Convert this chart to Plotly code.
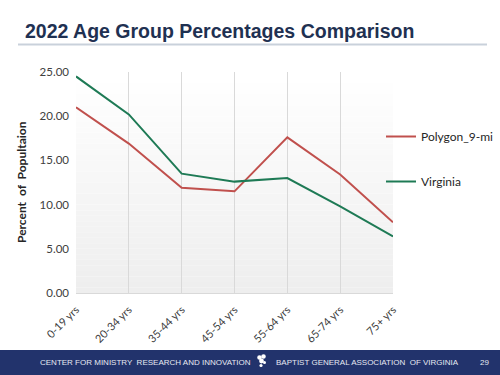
import plotly.graph_objects as go

categories = ["0-19 yrs", "20-34 yrs", "35-44 yrs", "45-54 yrs", "55-64 yrs", "65-74 yrs", "75+ yrs"]
polygon = [21.0, 16.9, 11.9, 11.5, 17.6, 13.4, 8.0]
virginia = [24.5, 20.2, 13.5, 12.6, 13.0, 9.8, 6.4]
y_ticks = [0, 5, 10, 15, 20, 25]
y_labels = ["0.00", "5.00", "10.00", "15.00", "20.00", "25.00"]

W, H = 500, 375
L, R, T, B = 76, 393, 72, 293

def px(x):
    return (x - L) / (R - L)

def py(y):
    return (B - y) / (B - T)

fig = go.Figure()
fig.add_trace(go.Scatter(x=categories, y=polygon, mode="lines", name="Polygon_9-mi",
                         line=dict(color="#C0504D", width=2), legendgroup="a"))
fig.add_trace(go.Scatter(x=categories, y=virginia, mode="lines", name="Virginia",
                         line=dict(color="#1E7A55", width=2), legendgroup="b"))

shapes = []
# gradient plot background
n = 40
for i in range(n):
    t = i / (n - 1)
    g = int(round(255 - (255 - 238) * t))
    shapes.append(dict(type="rect", xref="x domain", yref="y domain",
                       x0=0, x1=1, y0=1 - (i + 1) / n, y1=1 - i / n,
                       fillcolor=f"rgb({g},{g},{g})", line=dict(width=0), layer="below"))
# title underline
shapes.append(dict(type="line", xref="paper", yref="paper", x0=px(18), x1=px(487),
                   y0=py(44.5), y1=py(44.5), line=dict(color="#C9D1DB", width=2)))
# footer band
shapes.append(dict(type="rect", xref="paper", yref="paper", x0=px(-2), x1=px(502),
                   y0=py(350), y1=py(377), fillcolor="#22336C", line=dict(width=0), layer="above"))
# small logo
for cx, cy, r in [(259.5, 357.5, 2.3), (263.5, 356.5, 2.3), (261.5, 361, 2.4), (264.5, 362.5, 1.5), (261, 365.5, 1.6)]:
    shapes.append(dict(type="circle", xref="paper", yref="paper",
                       x0=px(cx - r), x1=px(cx + r), y0=py(cy + r), y1=py(cy - r),
                       fillcolor="#FFFFFF", line=dict(width=0), layer="above"))

foot_font = dict(family="Liberation Sans, Arial", size=8.0, color="#E6E9F2")
annotations = [
    dict(text="<b>2022 Age Group Percentages Comparison</b>", xref="paper", yref="paper",
         x=px(23), y=py(31), xanchor="left", yanchor="middle", showarrow=False,
         font=dict(family="Liberation Sans, Arial", size=19.5, color="#1F3152")),
    dict(text="CENTER FOR MINISTRY  RESEARCH AND INNOVATION", xref="paper", yref="paper",
         x=px(38), y=py(362.5), xanchor="left", yanchor="middle", showarrow=False, font=foot_font),
    dict(text="BAPTIST GENERAL ASSOCIATION  OF VIRGINIA", xref="paper", yref="paper",
         x=px(274), y=py(362.5), xanchor="left", yanchor="middle", showarrow=False, font=foot_font),
    dict(text="29", xref="paper", yref="paper",
         x=px(484), y=py(362.5), xanchor="center", yanchor="middle", showarrow=False, font=foot_font),
    dict(text="<b>Percent  of  Popultaion</b>", xref="paper", yref="paper",
         x=px(21), y=py(182), xanchor="center", yanchor="middle", showarrow=False, textangle=-90,
         font=dict(family="Lato, Open Sans", size=12, color="#262626")),
]

fig.update_layout(
    width=W, height=H,
    margin=dict(l=L, r=W - R, t=T, b=H - B, pad=0, autoexpand=False),
    paper_bgcolor="#FFFFFF",
    plot_bgcolor="#FFFFFF",
    font=dict(family="Lato, Open Sans", size=11, color="#404040"),
    shapes=shapes,
    annotations=annotations,
    showlegend=True,
    legend=dict(x=px(381), y=py(122), xanchor="left", yanchor="top",
                font=dict(size=12, color="#262626"), tracegroupgap=26,
                bgcolor="rgba(0,0,0,0)", itemwidth=30),
)
fig.update_xaxes(type="category", range=[0, 6], showgrid=True, gridcolor="#D9D9D9", gridwidth=1,
                 showline=True, linecolor="#D9D9D9", tickangle=-45, ticks="",
                 ticklabelstandoff=5,
                 tickfont=dict(size=11, color="#404040"), zeroline=False)
fig.update_yaxes(range=[0, 25], tickvals=y_ticks, ticktext=y_labels, showgrid=False,
                 showline=False, zeroline=False, ticks="", ticklabelstandoff=6,
                 tickfont=dict(size=11.5, color="#404040"))

fig.write_html("out.html", post_script="document.body.style.margin='0';",
               config={"displayModeBar": False})
